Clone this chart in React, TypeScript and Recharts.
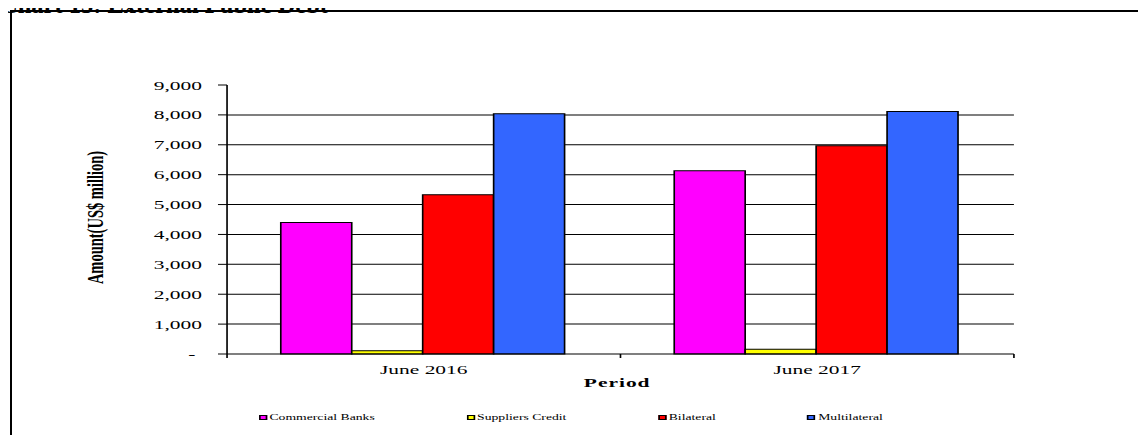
import React from "react";
import {
  BarChart,
  Bar,
  XAxis,
  YAxis,
  CartesianGrid,
  Legend,
} from "recharts";

// the source picture is stretched sideways, so the whole chart gets a scaleX
const STRETCH = 1.65;
const CHART_W = 695;
const CHART_H = 443;

const periods = ["June 2016", "June 2017"];
const commercialBanks = [4400, 6130];
const suppliersCredit = [110, 160];
const bilateral = [5330, 6970];
const multilateral = [8040, 8110];
const yTicks = [0, 1000, 2000, 3000, 4000, 5000, 6000, 7000, 8000, 9000];

const series = [
  { key: "commercialBanks", name: "Commercial Banks", color: "#FF00FF" },
  { key: "suppliersCredit", name: "Suppliers Credit", color: "#FFFF00" },
  { key: "bilateral", name: "Bilateral", color: "#FF0000" },
  { key: "multilateral", name: "Multilateral", color: "#3366FF" },
];

const data = periods.map((period, i) => ({
  period,
  commercialBanks: commercialBanks[i],
  suppliersCredit: suppliersCredit[i],
  bilateral: bilateral[i],
  multilateral: multilateral[i],
}));

const serif = '"Liberation Serif", "Times New Roman", serif';

const formatAmount = (v: number) => (v === 0 ? "-" : v.toLocaleString("en-US"));

const YTick = (props: any) => {
  const { x, y, payload } = props;
  return (
    <text
      x={payload.value === 0 ? x - 4 : x}
      y={y}
      dy="0.35em"
      textAnchor="end"
      fontSize={13}
      fontFamily={serif}
      fill="#000"
    >
      {formatAmount(payload.value)}
    </text>
  );
};

const XTick = (props: any) => {
  const { x, y, payload, index, visibleTicksCount, width } = props;
  const half = payload.offset ?? width / visibleTicksCount / 2;
  const axisY = y - 11;
  return (
    <g>
      <line x1={x - half} x2={x - half} y1={axisY} y2={axisY + 4} stroke="#000" />
      {index === visibleTicksCount - 1 && (
        <line x1={x + half} x2={x + half} y1={axisY} y2={axisY + 4} stroke="#000" />
      )}
      <text
        x={x}
        y={y}
        dy="0.71em"
        textAnchor="middle"
        fontSize={13}
        fontFamily={serif}
        fill="#000"
      >
        {payload.value}
      </text>
    </g>
  );
};

const YLabel = (props: any) => {
  const { viewBox } = props;
  const cx = viewBox.x - 20;
  const cy = viewBox.y + viewBox.height / 2 - 2;
  return (
    <text
      x={cx}
      y={cy}
      transform={`rotate(-90, ${cx}, ${cy})`}
      textAnchor="middle"
      dominantBaseline="central"
      fontSize={14.5}
      fontWeight="bold"
      fontFamily={serif}
      fill="#000"
    >
      Amount(US$ million)
    </text>
  );
};

const XLabel = (props: any) => {
  const { viewBox } = props;
  return (
    <text
      x={viewBox.x + viewBox.width / 2 - 2}
      y={387}
      textAnchor="middle"
      fontSize={13}
      fontWeight="bold"
      letterSpacing={0.6}
      fontFamily={serif}
      fill="#000"
    >
      Period
    </text>
  );
};

const renderLegend = () => (
  <div
    style={{
      display: "flex",
      alignItems: "center",
      height: 16,
      paddingLeft: 156.8,
      fontFamily: serif,
      fontSize: 8.3,
      color: "#000",
    }}
  >
    {series.map((s) => (
      <div
        key={s.key}
        style={{ display: "flex", alignItems: "center", marginRight: 55.5 }}
      >
        <span
          style={{
            display: "inline-block",
            boxSizing: "border-box",
            width: 5,
            height: 5,
            background: s.color,
            border: "1px solid #000",
            marginRight: 1.5,
          }}
        />
        <span>{s.name}</span>
      </div>
    ))}
  </div>
);

export default function App() {
  return (
    <div
      style={{
        position: "relative",
        width: 1146,
        height: 443,
        margin: -8,
        overflow: "hidden",
        background: "#fff",
      }}
    >
      <div
        style={{
          position: "absolute",
          left: 10,
          top: 10,
          width: 1200,
          height: 500,
          border: "2px solid #000",
        }}
      />
      <div
        style={{
          position: "absolute",
          left: 0,
          top: 0,
          transform: `scaleX(${STRETCH})`,
          transformOrigin: "0 0",
        }}
      >
        <BarChart
          width={CHART_W}
          height={CHART_H}
          data={data}
          margin={{ top: 85, right: 80.5, bottom: 43, left: 77.6 }}
          barCategoryGap="13.66%"
          barGap={0}
        >
          <CartesianGrid
            vertical={false}
            stroke="#000"
            horizontalValues={[1000, 2000, 3000, 4000, 5000, 6000, 7000, 8000]}
          />
          <XAxis
            dataKey="period"
            height={30}
            tickSize={0}
            tickMargin={11}
            tick={<XTick />}
            axisLine={{ stroke: "#000" }}
            label={<XLabel />}
          />
          <XAxis
            xAxisId="top"
            dataKey="period"
            orientation="top"
            height={0}
            tick={false}
            tickLine={false}
            axisLine={{ stroke: "#808080" }}
          />
          <YAxis
            width={60}
            domain={[0, 9000]}
            ticks={yTicks}
            interval={0}
            tickSize={5.5}
            tickMargin={9.7}
            tick={<YTick />}
            tickLine={{ stroke: "#000" }}
            axisLine={{ stroke: "#000" }}
            label={<YLabel />}
          />
          <YAxis
            yAxisId="right"
            orientation="right"
            width={0}
            domain={[0, 9000]}
            tick={false}
            tickLine={false}
            axisLine={{ stroke: "#808080" }}
          />
          <Legend
            content={renderLegend}
            wrapperStyle={{ left: 0, width: CHART_W, bottom: 18 }}
          />
          {series.map((s) => (
            <Bar
              key={s.key}
              dataKey={s.key}
              name={s.name}
              fill={s.color}
              stroke="#000"
              strokeWidth={1}
              isAnimationActive={false}
            />
          ))}
        </BarChart>
      </div>
      <div
        style={{
          position: "absolute",
          zIndex: 5,
          left: 0,
          top: -7,
          fontFamily: serif,
          fontWeight: "bold",
          fontSize: 24.5,
          lineHeight: "24px",
          whiteSpace: "nowrap",
          color: "#000",
        }}
      >
        Chart 15: External Public Debt
      </div>
    </div>
  );
}
